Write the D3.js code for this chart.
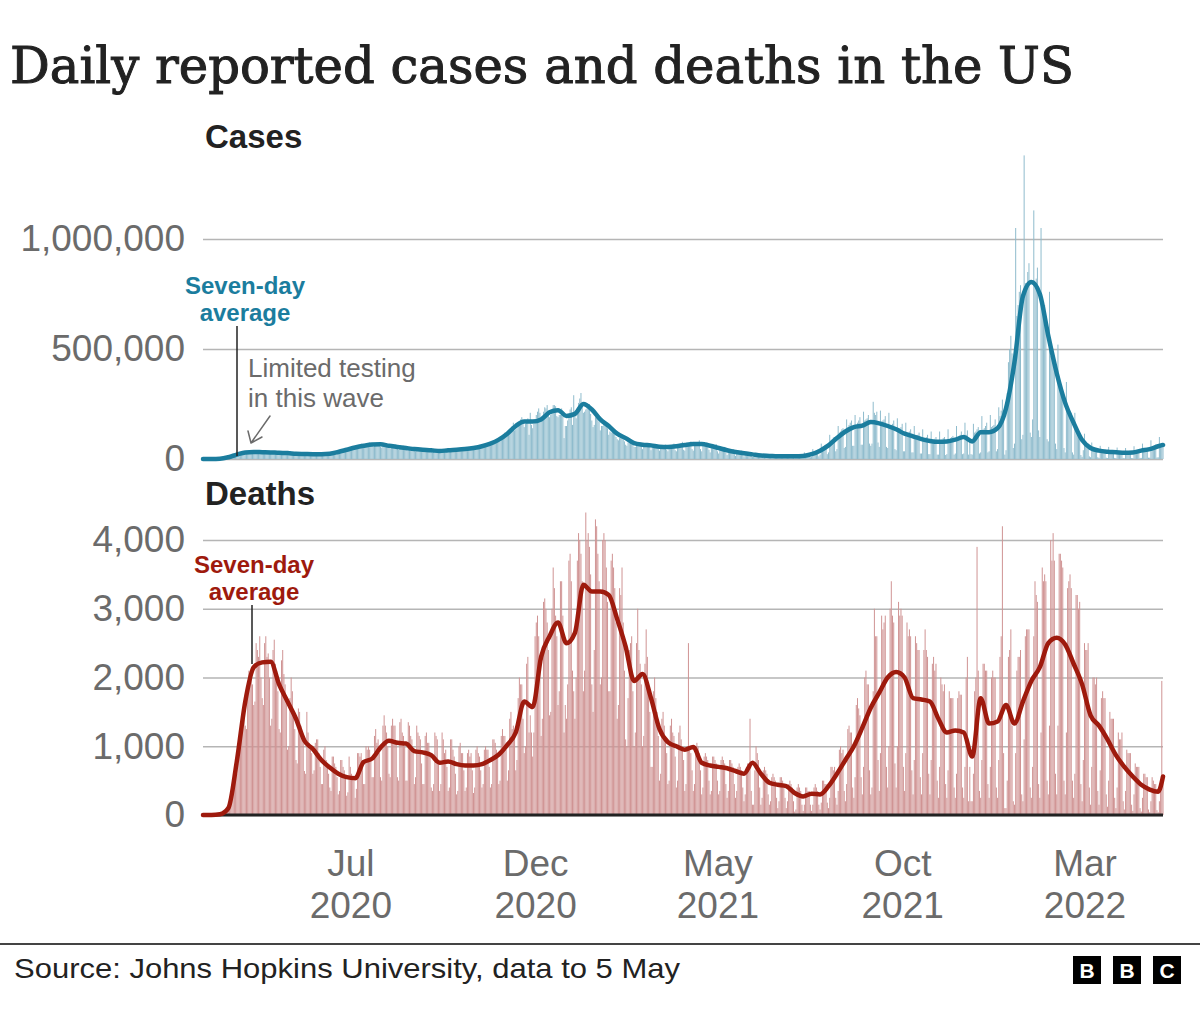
<!DOCTYPE html>
<html><head><meta charset="utf-8">
<script src="https://cdn.jsdelivr.net/npm/d3@7"></script>
<style>
html,body{margin:0;padding:0;background:#fff;}
svg{display:block;}
</style></head>
<body>
<svg id="chart" width="1200" height="1014"></svg>
<script>
// ---------------- DATA ----------------
const startDate = new Date(2020, 2, 1);   // 1 Mar 2020
const endDate   = new Date(2022, 4, 5);   // 5 May 2022

// Daily reported cases (thousands), one row per week starting Sunday 1 Mar 2020
const casesDailyK = [
0,0,0,0,0,0.1,0.1,
0.1,0.2,0.3,0.4,0.5,0.6,0.7,
0.8,1.5,2,3,4,6,7,
9,10,11,13,17,18,20,
19,21,26,26,29,32,33,
26,28,31,30,35,33,31,
27,26,27,29,31,33,30,
26,25,26,29,31,36,33,
27,22,25,29,29,34,29,
25,21,24,28,28,30,29,
20,20,23,25,27,28,26,
19,18,20,23,24,26,23,
19,18,19,20,23,25,23,
17,16,18,21,22,25,22,
18,17,20,23,24,27,25,
24,22,25,29,31,33,32,
33,32,35,38,42,45,43,
42,40,45,50,52,55,50,
50,48,55,60,63,70,62,
55,50,60,66,70,75,68,
60,55,62,70,75,74,66,
56,52,60,66,70,72,64,
52,47,53,60,63,67,58,
46,42,48,55,58,60,53,
42,38,44,50,52,55,48,
38,35,40,45,48,50,44,
36,32,38,44,46,48,42,
32,28,33,42,43,46,40,
33,30,35,40,42,45,40,
36,33,38,43,45,48,44,
37,35,40,45,48,52,45,
40,38,43,49,52,57,50,
45,42,50,55,60,64,56,
52,50,58,62,70,72,66,
60,62,68,78,85,90,80,
78,80,90,100,110,120,105,
105,110,125,140,150,165,130,
135,140,150,170,180,190,165,
145,160,175,185,110,210,155,
140,160,175,200,215,230,210,
185,190,215,235,230,245,215,
190,200,205,245,245,240,195,
190,200,200,230,195,95,150,
150,175,200,225,235,155,290,
210,185,230,255,275,300,260,
210,215,225,230,240,250,205,
175,145,155,190,190,200,170,
130,150,150,160,165,165,140,
110,125,120,125,125,135,100,
90,85,95,95,105,105,80,
65,60,75,75,80,85,70,
55,55,70,70,75,75,60,
45,60,58,65,68,70,55,
40,55,60,62,65,68,45,
38,55,58,60,63,65,42,
35,60,55,60,65,70,40,
35,65,60,68,70,78,42,
38,72,65,72,75,80,45,
38,75,68,75,78,85,45,
35,70,62,70,75,75,42,
30,65,55,58,60,68,35,
25,55,45,48,52,55,30,
18,45,38,40,42,45,22,
14,35,30,32,35,38,18,
12,30,25,26,28,30,14,
9,10,25,22,22,24,12,
7,20,15,17,18,19,9,
6,18,13,14,15,17,7,
5,17,12,13,14,16,6,
5,16,12,13,14,17,6,
3,5,22,15,16,20,6,
6,30,20,22,24,25,8,
10,45,35,38,40,42,12,
20,70,55,58,62,65,22,
30,110,85,90,98,100,35,
45,150,120,125,135,140,50,
55,180,145,155,165,175,60,
60,200,155,165,175,190,65,
65,215,175,180,185,200,70,
60,70,260,210,200,215,75,
55,220,170,175,180,195,55,
50,210,150,155,160,175,45,
40,185,135,140,145,160,35,
35,165,120,120,125,135,30,
30,150,105,105,110,120,25,
25,135,95,95,100,110,22,
22,125,85,88,92,100,20,
20,125,85,88,95,100,18,
22,135,90,95,100,105,20,
25,150,100,105,110,125,22,
25,165,110,130,20,75,22,
20,160,120,125,135,145,25,
30,195,135,140,150,165,30,
35,200,145,150,155,180,35,
45,235,195,220,270,170,20,
40,300,440,500,560,480,50,
70,1050,650,700,760,790,90,
110,1380,800,790,850,890,120,
100,180,1130,780,820,870,130,
100,1050,700,640,700,650,90,
80,760,470,470,460,430,70,
45,520,330,320,320,300,50,
30,350,210,210,200,210,30,
20,210,130,125,120,115,18,
10,40,115,75,70,70,12,
8,75,45,45,45,50,8,
5,60,37,38,38,42,6,
4,55,33,34,35,40,5,
4,52,30,32,32,36,5,
3,50,30,30,32,35,4,
4,58,35,38,38,42,5,
5,70,42,45,45,52,6,
6,85,55,55,60,65,7,
8,100,65,70,70
];

// Seven-day average of cases (thousands), one value per week from 1 Mar 2020, last = 5 May 2022
const casesAvgK = [
0,0.1,1,8,20,30,32,31,30,28,
27,24,23,22,22,24,32,42,52,60,
66,67,60,55,50,45,42,40,36,40,
42,45,50,58,70,88,115,150,170,170,
180,212,222,196,205,250,225,180,150,115,
95,72,65,62,56,55,58,64,68,68,
60,50,40,32,26,21,16,14,12,12,
12,14,22,38,62,95,125,145,152,168,
162,150,135,115,103,90,82,78,80,88,
100,80,122,122,140,230,440,740,805,750,
560,390,255,164,86,50,38,33,31,28,
30,38,45,58,64
];

// Daily reported deaths, one row per week starting Sunday 1 Mar 2020
const deathsDaily = [
0,0,0,0,0,0,0,
1,3,5,6,6,10,12,
12,20,25,45,60,75,100,
130,160,220,330,400,450,550,
600,750,1000,1100,1200,1350,1400,
1300,1250,1900,2100,2000,2050,1900,
1600,1650,2500,2400,2300,2600,2000,
1700,1600,2500,2600,2300,2350,2000,
1300,1400,2400,2550,2200,2100,1800,
1250,1200,2250,2400,2050,1900,1650,
950,1000,1700,2000,1800,1500,1250,
800,750,1550,1500,1300,1200,1100,
640,600,1500,1200,1050,1000,900,
600,650,1050,1100,1100,900,700,
450,450,950,1000,800,750,600,
400,350,850,850,750,700,550,
300,350,800,800,700,650,550,
280,330,850,700,600,550,500,
250,380,900,900,850,900,700,
450,450,1000,950,1000,950,800,
550,550,1150,1250,1050,1100,900,
550,500,1300,1450,1300,1200,1000,
600,550,1300,1400,1300,1300,1050,
550,500,1350,1400,1200,1150,1000,
500,500,1350,1300,1150,1100,950,
450,550,1300,1200,1150,1100,750,
450,450,1150,1200,1050,1050,850,
400,350,450,1200,1150,1100,800,
350,450,1200,1100,900,950,700,
350,400,1100,1100,950,850,600,
300,350,1000,1050,900,900,650,
350,400,900,950,850,900,650,
320,400,950,1000,900,850,650,
400,450,950,1000,950,950,700,
400,450,1100,1100,1050,950,850,
450,500,1150,1250,1150,1150,950,
500,650,1400,1500,1250,1300,1150,
650,800,1700,2000,1900,1900,1400,
900,1000,2200,2300,1200,1450,1200,
850,1200,2600,2800,2900,2600,2300,
1150,1400,3100,3150,3000,2800,2400,
1450,1500,3000,3600,3300,2900,2600,
1600,1800,3400,3400,2900,1200,1600,
1400,1900,3700,3800,3400,2100,1800,
1400,2000,3700,4100,4000,3800,3400,
1800,2100,4400,4000,4100,3900,3500,
1900,1500,2400,4300,4200,3800,3400,
1900,2000,4000,4100,4000,3600,3100,
1800,1800,3700,3800,3600,3300,2800,
1400,1600,3300,3200,3600,2800,2100,
1100,1000,1700,2400,2500,2600,1800,
1000,1200,2500,3000,2400,2200,1900,
1000,1150,2200,2700,2300,1800,1500,
700,700,1800,2000,1700,1500,1150,
500,600,1400,1500,1300,1150,900,
450,500,1300,1400,1200,1150,850,
400,500,1200,1300,1100,1000,800,
350,450,1000,2500,950,900,650,
350,450,1000,1050,1000,900,650,
300,400,850,900,850,800,500,
300,350,850,850,800,750,500,
300,350,800,850,800,750,450,
250,350,800,800,750,700,450,
250,350,700,750,700,650,400,
200,300,700,750,700,1400,350,
150,150,650,1000,900,800,400,
150,250,650,700,650,600,300,
150,200,550,600,550,500,250,
100,200,550,550,500,450,250,
100,200,450,500,450,400,200,
50,80,400,450,400,350,150,
60,150,400,400,350,350,150,
60,150,400,450,400,350,150,
80,180,500,500,450,450,180,
100,250,700,700,650,700,250,
150,350,950,1000,900,950,350,
200,450,1250,1300,1200,1200,400,
250,550,1600,1700,1550,1450,550,
300,700,2000,2100,1900,1900,650,
300,400,1800,3000,2600,2600,800,
350,900,2900,2700,2800,2900,700,
400,1000,3000,3400,2900,2800,750,
400,1000,3100,2900,3000,2900,700,
350,900,2800,2600,2700,2600,650,
300,800,2600,2500,2400,2400,550,
300,900,2400,2700,2400,2300,600,
300,800,2200,2300,2100,2200,500,
250,700,2000,1900,1800,1900,450,
250,650,1800,1700,1700,1700,400,
250,600,1700,1800,1750,1750,400,
250,700,2000,2300,200,700,200,
200,600,1800,2000,3900,2100,350,
250,800,2200,2200,2100,2100,450,
250,700,2000,2100,2000,2000,400,
250,800,2300,2600,4200,900,100,
100,500,2300,2400,2700,1300,200,
150,900,2100,2300,2300,2400,300,
200,1100,2600,2700,2700,2700,400,
250,700,2600,3400,3200,3100,450,
250,1200,3600,3400,3500,3400,500,
300,1300,4000,3700,4100,3700,600,
300,1300,3800,3800,3700,3600,500,
300,1200,3300,3400,3500,3300,500,
250,600,3200,3200,3000,3100,450,
200,800,2500,2400,2400,2500,400,
150,700,2000,2000,1900,2000,350,
150,650,1700,1800,1700,1700,300,
120,500,1500,1400,1400,1400,250,
100,400,1200,1100,1100,1200,200,
80,350,950,900,900,900,150,
60,300,750,700,700,700,100,
50,250,600,600,550,550,80,
40,200,550,500,450,450,70,
40,200,500,1950,500
];

// Seven-day average of deaths, one value per week from 1 Mar 2020, last = 5 May 2022
const deathsAvg = [
0,0,10,100,780,1650,2150,2220,2230,1900,
1650,1400,1080,960,800,690,600,550,535,770,
820,980,1080,1050,1040,930,910,870,760,780,
740,720,720,740,800,880,1020,1200,1650,1570,
2300,2600,2800,2500,2650,3350,3250,3250,3200,2850,
2450,1950,2050,1700,1250,1060,1000,950,990,760,
720,700,680,640,600,760,600,470,440,420,
320,270,310,300,420,600,800,1000,1270,1560,
1780,2000,2080,2000,1700,1680,1650,1400,1200,1230,
1200,850,1700,1330,1360,1600,1330,1650,1950,2150,
2500,2580,2480,2200,1900,1450,1300,1100,870,700,
560,440,370,340,560
];

const casesTicks  = [0, 500000, 1000000];
const deathsTicks = [0, 1000, 2000, 3000, 4000];
const xTickDates  = [new Date(2020,6,1), new Date(2020,11,1), new Date(2021,4,1), new Date(2021,9,1), new Date(2022,2,1)];
const xTickMonths = ["Jul","Dec","May","Oct","Mar"];
const xTickYears  = ["2020","2020","2021","2021","2022"];

// ---------------- CHART ----------------
const svg = d3.select("#chart");
const W = 1200;
const sansFont = "'Liberation Sans', Arial, sans-serif";

const x = d3.scaleTime().domain([startDate, endDate]).range([203, 1163]);
const yC = d3.scaleLinear().domain([0, 1000000]).range([459, 239]);
const yD = d3.scaleLinear().domain([0, 4000]).range([815, 540]);

const dayDate  = i => d3.timeDay.offset(startDate, i);
const weekDate = i => { const d = d3.timeDay.offset(startDate, 7 * i); return d > endDate ? endDate : d; };

const casesDaily = casesDailyK.map((v, i) => ({ date: dayDate(i), value: v * 1000 }));
const casesAvg   = casesAvgK.map((v, i) => ({ date: weekDate(i), value: v * 1000 }));
const deathsD    = deathsDaily.map((v, i) => ({ date: dayDate(i), value: v }));
const deathsA    = deathsAvg.map((v, i) => ({ date: weekDate(i), value: v }));

// Title
svg.append("text")
  .attr("x", 10).attr("y", 83)
  .attr("font-family", "'DejaVu Serif', serif")
  .attr("font-size", 50)
  .attr("fill", "#222").attr("stroke", "#222").attr("stroke-width", 1)
  .attr("textLength", 1064)
  .attr("lengthAdjust", "spacingAndGlyphs")
  .text("Daily reported cases and deaths in the US");

// Panel titles
svg.append("text").attr("x", 205).attr("y", 148)
  .attr("font-family", sansFont).attr("font-weight", 700).attr("font-size", 33)
  .attr("fill", "#222").text("Cases");
svg.append("text").attr("x", 205).attr("y", 505)
  .attr("font-family", sansFont).attr("font-weight", 700).attr("font-size", 33)
  .attr("fill", "#222").text("Deaths");

function styleYAxis(g) {
  g.select(".domain").remove();
  g.selectAll(".tick line").attr("stroke", "#b5b5b5").attr("stroke-width", 1.5);
  g.selectAll(".tick text")
    .attr("font-family", sansFont).attr("font-size", 37).attr("fill", "#6b6b6b");
}

// Cases axis + grid
svg.append("g").attr("transform", "translate(203,0)")
  .call(d3.axisLeft(yC).tickValues(casesTicks).tickFormat(d3.format(",")).tickSize(-960).tickPadding(18))
  .call(styleYAxis);

// Deaths axis + grid
svg.append("g").attr("transform", "translate(203,0)")
  .call(d3.axisLeft(yD).tickValues(deathsTicks).tickFormat(d3.format(",")).tickSize(-960).tickPadding(18))
  .call(styleYAxis);

// Cases bars
svg.append("g").selectAll("rect").data(casesDaily).join("rect")
  .attr("x", d => x(d.date) - 0.5)
  .attr("width", 1)
  .attr("y", d => yC(d.value))
  .attr("height", d => yC(0) - yC(d.value))
  .attr("fill", "#8fbccd");

// Deaths bars
svg.append("g").selectAll("rect").data(deathsD).join("rect")
  .attr("x", d => x(d.date) - 0.5)
  .attr("width", 1)
  .attr("y", d => yD(d.value))
  .attr("height", d => yD(0) - yD(d.value))
  .attr("fill", "#d09494");

// Deaths baseline
svg.append("line").attr("x1", 203).attr("x2", 1163).attr("y1", yD(0)).attr("y2", yD(0))
  .attr("stroke", "#222").attr("stroke-width", 3);

// Lines
const lineC = d3.line().x(d => x(d.date)).y(d => yC(d.value)).curve(d3.curveMonotoneX);
const lineD = d3.line().x(d => x(d.date)).y(d => yD(d.value)).curve(d3.curveMonotoneX);

svg.append("path").datum(casesAvg).attr("d", lineC)
  .attr("fill", "none").attr("stroke", "#1b7d9e").attr("stroke-width", 4.5)
  .attr("stroke-linejoin", "round").attr("stroke-linecap", "round");
svg.append("path").datum(deathsA).attr("d", lineD)
  .attr("fill", "none").attr("stroke", "#9e1a0d").attr("stroke-width", 4.5)
  .attr("stroke-linejoin", "round").attr("stroke-linecap", "round");

// X axis (two-line labels as separate texts)
const xAxisG = svg.append("g").attr("transform", `translate(0,${yD(0)})`)
  .call(d3.axisBottom(x).tickValues(xTickDates).tickSize(0).tickFormat(""));
xAxisG.select(".domain").remove();
xAxisG.selectAll(".tick text").remove();
xAxisG.selectAll(".tick").each(function(d, i) {
  const g = d3.select(this);
  [[xTickMonths[i], 61], [xTickYears[i], 102.5]].forEach(([txt, yy]) => {
    g.append("text").attr("x", 0).attr("y", yy)
      .attr("font-family", sansFont).attr("font-size", 37).attr("fill", "#6b6b6b")
      .attr("text-anchor", "middle").text(txt);
  });
});

// helper for single-line texts
function label(xx, yy, txt, opts) {
  const t = svg.append("text").attr("x", xx).attr("y", yy)
    .attr("font-family", sansFont).attr("font-size", opts.size)
    .attr("fill", opts.fill).text(txt);
  if (opts.bold) t.attr("font-weight", 700);
  if (opts.anchor) t.attr("text-anchor", opts.anchor);
  return t;
}

// Annotations - cases
svg.append("line").attr("x1", 237).attr("x2", 237).attr("y1", 326).attr("y2", 456)
  .attr("stroke", "#222").attr("stroke-width", 1.5);
label(245, 294, "Seven-day", { size: 24, fill: "#1b7d9e", bold: true, anchor: "middle" });
label(245, 321, "average",   { size: 24, fill: "#1b7d9e", bold: true, anchor: "middle" });

label(248, 377, "Limited testing", { size: 26, fill: "#6b6b6b" });
label(248, 406.5, "in this wave",  { size: 26, fill: "#6b6b6b" });

svg.append("path")
  .attr("d", "M270,416 L251,443 M248,431 L251,443 L262,437")
  .attr("fill", "none").attr("stroke", "#6b6b6b").attr("stroke-width", 1.5)
  .attr("stroke-linecap", "round").attr("stroke-linejoin", "round");

// Annotations - deaths
svg.append("line").attr("x1", 252).attr("x2", 252).attr("y1", 605).attr("y2", 664)
  .attr("stroke", "#222").attr("stroke-width", 1.5);
label(254, 573, "Seven-day", { size: 24, fill: "#9e1a0d", bold: true, anchor: "middle" });
label(254, 600, "average",   { size: 24, fill: "#9e1a0d", bold: true, anchor: "middle" });

// Footer
svg.append("line").attr("x1", 0).attr("x2", W).attr("y1", 944).attr("y2", 944)
  .attr("stroke", "#444").attr("stroke-width", 2);
svg.append("text").attr("x", 14).attr("y", 978)
  .attr("font-family", sansFont).attr("font-size", 28).attr("fill", "#222")
  .attr("textLength", 666).attr("lengthAdjust", "spacingAndGlyphs")
  .text("Source: Johns Hopkins University, data to 5 May");

const logo = svg.append("g");
["B", "B", "C"].forEach((ch, i) => {
  const bx = 1073 + i * 40;
  logo.append("rect").attr("x", bx).attr("y", 956).attr("width", 28).attr("height", 28).attr("fill", "#000");
  logo.append("text").attr("x", bx + 14).attr("y", 978).attr("text-anchor", "middle")
    .attr("font-family", sansFont).attr("font-weight", 700).attr("font-size", 21)
    .attr("fill", "#fff").text(ch);
});
</script>
</body></html>
